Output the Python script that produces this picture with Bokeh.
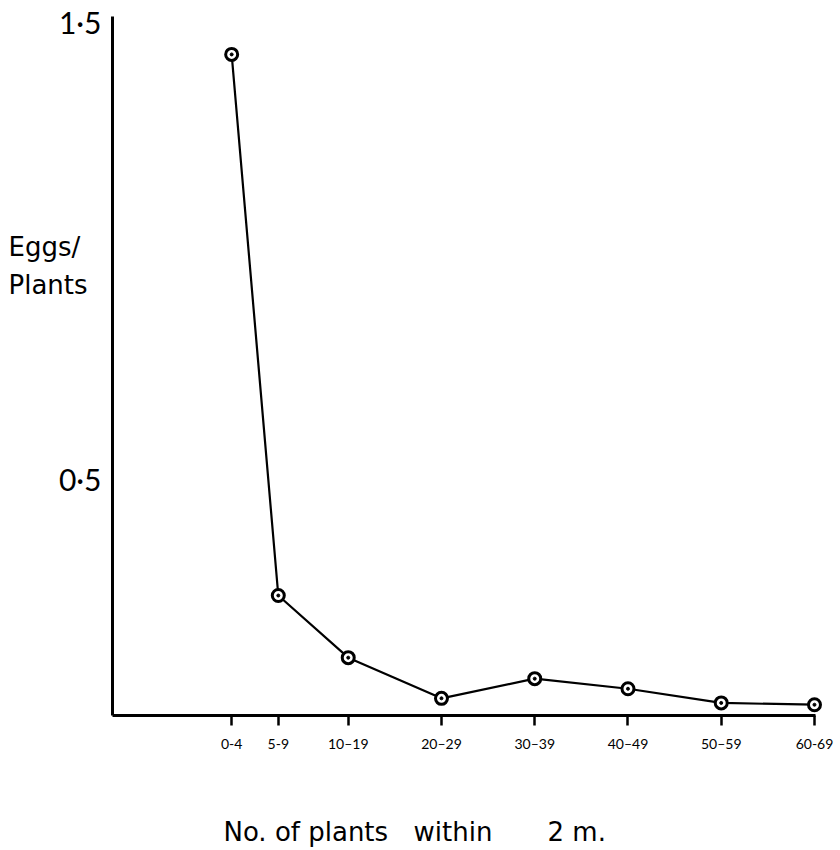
from bokeh.plotting import figure
from bokeh.models import FixedTicker, Label, ColumnDataSource, Range1d
from bokeh.embed import file_html
from bokeh.resources import INLINE

# ---- data ----
categories = ["0-4", "5-9", "10–19", "20–29", "30–39", "40–49", "50–59", "60-69"]
class_mid = [2, 7, 14.5, 24.5, 34.5, 44.5, 54.5, 64.5]
eggs_per_plant = [1.43, 0.246, 0.11, 0.021, 0.064, 0.042, 0.011, 0.007]
y_ticks = [0.5, 1.5]
y_tick_labels = ["0·5", "1·5"]

src = ColumnDataSource(dict(x=class_mid, y=eggs_per_plant, cat=categories))

# axis extents (data units)
AX_X0, AX_X1 = -10.78, 64.6
AX_Y0, AX_Y1 = -0.0165, 1.513

p = figure(width=840, height=850,
           x_range=Range1d(-22.79, 67.29), y_range=Range1d(-0.312, 1.548),
           output_backend="svg", toolbar_location=None,
           min_border_left=0, min_border_right=0,
           min_border_top=0, min_border_bottom=0)

p.grid.visible = False
p.outline_line_color = None
p.background_fill_color = "white"
p.border_fill_color = "white"

# line + ring markers
p.line("x", "y", source=src, line_color="black", line_width=2.2)
p.scatter("x", "y", source=src, size=12, fill_color="white",
          line_color="black", line_width=3)
p.scatter("x", "y", source=src, size=3, fill_color="black", line_color="black")

# x axis
xa = p.xaxis[0]
xa.fixed_location = AX_Y0
xa.ticker = FixedTicker(ticks=class_mid)
xa.major_label_overrides = {m: c for m, c in zip(class_mid, categories)}
xa.bounds = (AX_X0, AX_X1)
xa.axis_line_width = 3
xa.axis_line_color = "black"
xa.major_tick_out = 10
xa.major_tick_in = 0
xa.major_tick_line_width = 2.5
xa.minor_tick_line_color = None
xa.major_label_standoff = 10
xa.major_label_text_font = "Lato"
xa.major_label_text_font_size = "14px"
xa.major_label_text_color = "black"

# y axis
ya = p.yaxis[0]
ya.fixed_location = AX_X0
ya.ticker = FixedTicker(ticks=y_ticks)
ya.major_label_overrides = {t: l for t, l in zip(y_ticks, y_tick_labels)}
ya.bounds = (AX_Y0, AX_Y1)
ya.axis_line_width = 3
ya.axis_line_color = "black"
ya.major_tick_out = 0
ya.major_tick_in = 0
ya.minor_tick_line_color = None
ya.major_label_standoff = 11
ya.major_label_text_font = "Lato"
ya.major_label_text_font_size = "30px"
ya.major_label_text_color = "black"

# axis titles as labels
common = dict(text_font="DejaVu Sans", text_font_size="26px",
              text_color="black", text_align="left",
              text_baseline="alphabetic")
p.add_layout(Label(x=-21.93, y=1.009, text="Eggs/", **common))
p.add_layout(Label(x=-21.93, y=0.926, text="Plants", **common))
p.add_layout(Label(x=1.12, y=-0.272, text="No. of plants", **common))
p.add_layout(Label(x=21.5, y=-0.272, text="within", **common))
p.add_layout(Label(x=35.87, y=-0.272, text="2 m.", **common))

open("out.html", "w").write(file_html(p, INLINE))
